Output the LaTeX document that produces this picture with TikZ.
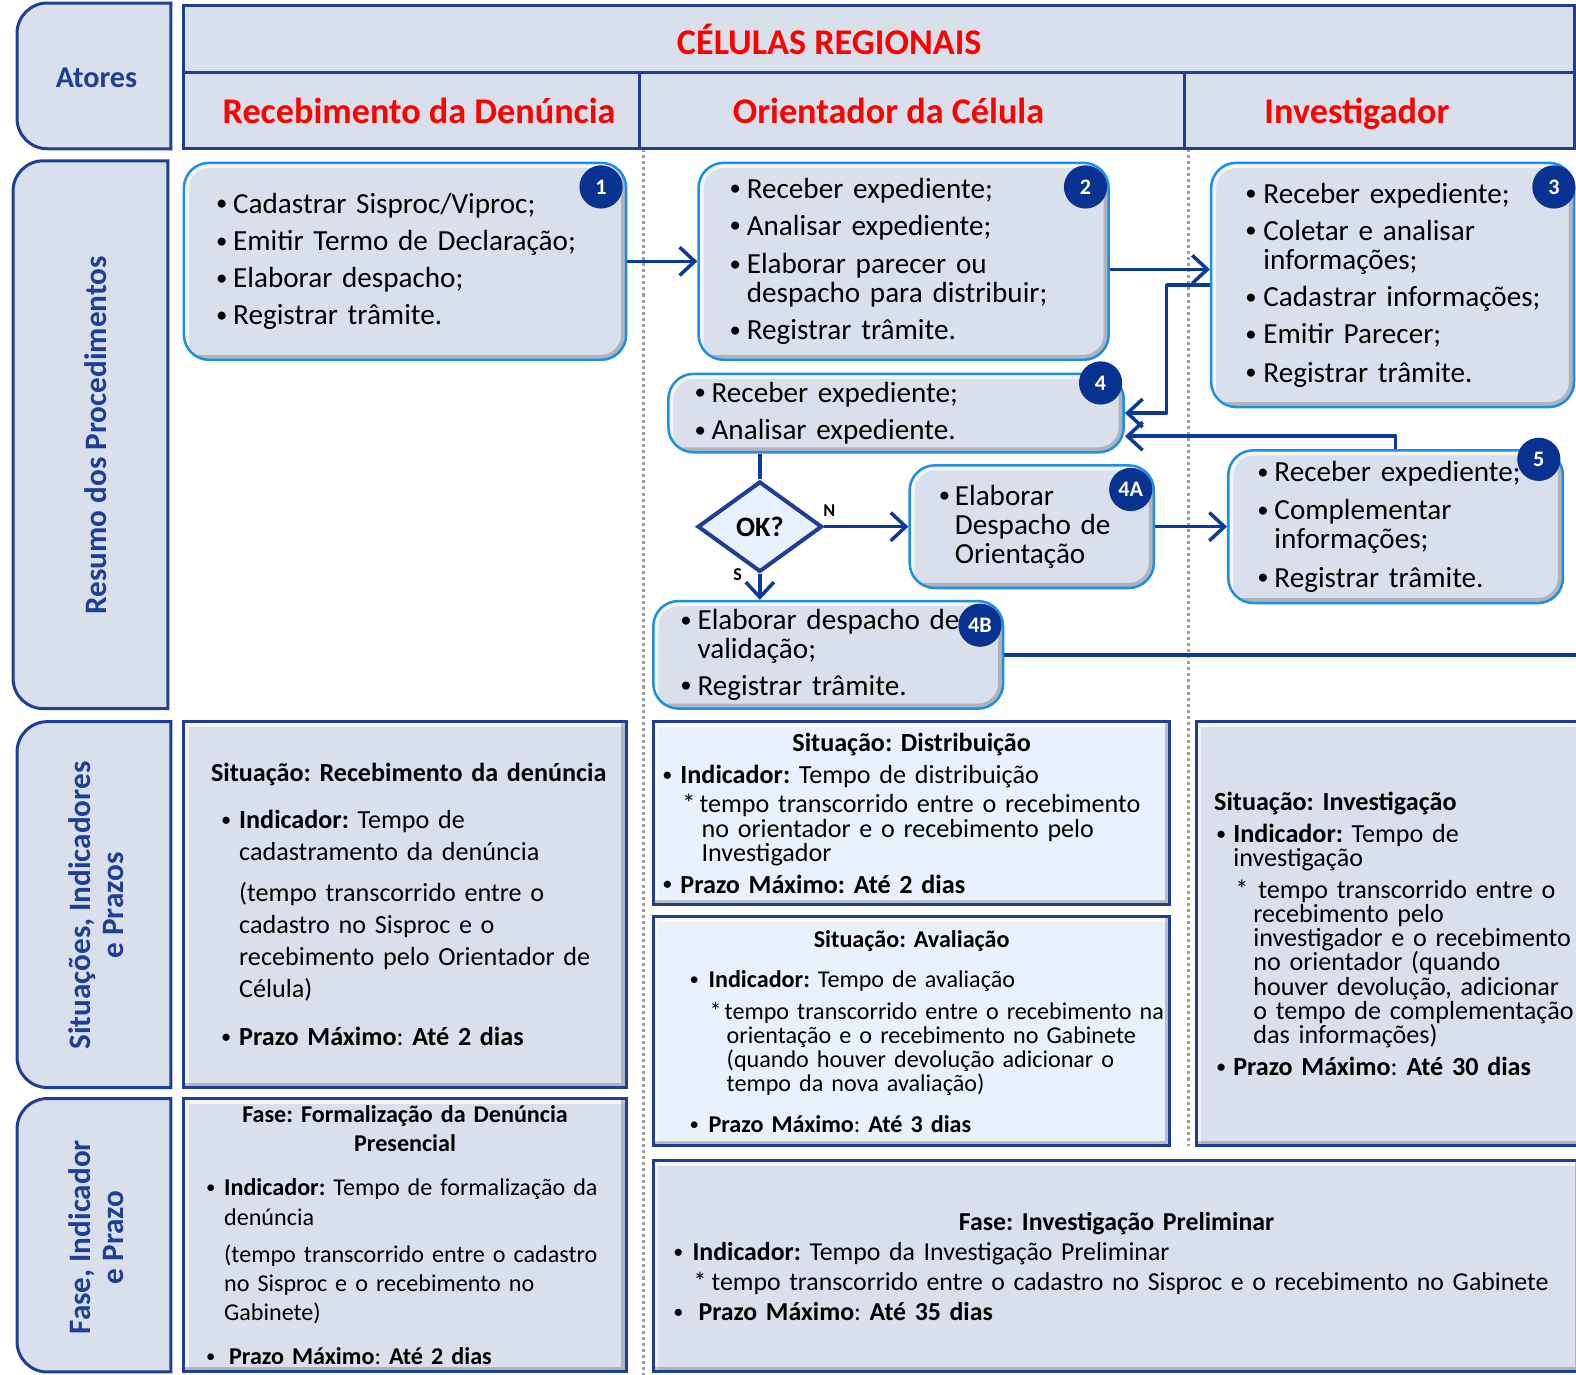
\documentclass[tikz,border=0pt]{standalone}
\usepackage{fontspec}
\setmainfont{Carlito}
\usepackage{xcolor}
\usepackage{graphicx}
\usepackage{tikz}
\usetikzlibrary{shapes.geometric, arrows.meta}

\definecolor{boxfill}{HTML}{D9E0EB}
\definecolor{lightfill}{HTML}{E8F1FC}
\definecolor{framblue}{HTML}{1F3F95}
\definecolor{stepedge}{HTML}{1E8FE4}
\definecolor{flowblue}{HTML}{0B3A9C}
\definecolor{badgeblue}{HTML}{0A3391}
\definecolor{sepgray}{HTML}{A0A0A0}

\setlength{\parindent}{0pt}
\frenchspacing
\newcommand{\pbul}[2]{\hspace*{#1pt}\makebox[#2pt][l]{\raisebox{0.08em}{\scalebox{0.78}{\textbullet}}}}
\newcommand{\pskip}[1]{\hspace*{#1pt}}
\newcommand{\pctr}[1]{\hfill#1\hfill\null}

\begin{document}
\begin{tikzpicture}[x=1pt, y=-1pt]
        % Define block styles with light gray-blue background
        \tikzstyle{sidebox} = [draw=framblue, line width=3pt, fill=boxfill]
        \tikzstyle{sidelabel} = [text=framblue, font=\bfseries\fontsize{31}{33}\selectfont, align=center]
        \tikzstyle{hdrtext} = [text=red, anchor=base, font=\bfseries\fontsize{36}{36}\selectfont]
        \tikzstyle{bevel} = [path picture={
            \draw[white, opacity=0.7, line width=10pt] (path picture bounding box.south west) -- (path picture bounding box.north west) -- (path picture bounding box.north east);
            \draw[black!50, opacity=0.45, line width=10pt] (path picture bounding box.north east) -- (path picture bounding box.south east) -- (path picture bounding box.south west);}]
        \tikzstyle{stepbox} = [rectangle, draw=stepedge, line width=2.5pt, fill=boxfill, rounded corners=25pt,
                               inner sep=0pt, align=left, font=\fontsize{29}{29}\selectfont, bevel]
        \tikzstyle{infobox} = [rectangle, draw=framblue, line width=3pt, fill=boxfill, inner sep=0pt, align=left, bevel]
        \tikzstyle{badge} = [circle, fill=badgeblue, text=white, minimum size=43pt, inner sep=0pt,
                             font=\bfseries\fontsize{22}{22}\selectfont]
        \tikzstyle{decision} = [diamond, draw=framblue, line width=4pt, fill=lightfill, aspect=1.4,
                                minimum width=124pt, minimum height=90pt, inner sep=0pt, font=\bfseries\fontsize{28}{28}\selectfont]
        \tikzstyle{yesno} = [font=\bfseries\fontsize{18}{18}\selectfont]
        \tikzstyle{arrow} = [flowblue, line width=3.5pt, line join=round, -{Straight Barb[length=15pt, width=28pt]}]
        \tikzstyle{flowline} = [flowblue, line width=3.5pt, line join=round]
        \tikzstyle{sepline} = [sepgray, line width=3pt, dash pattern=on 3pt off 3pt]

        \useasboundingbox (0,0) rectangle (1568,1368);
        \fill[white] (0,0) rectangle (1568,1368);

        % Dotted lane separators
        \draw[sepline] (640,148) -- (640,1368);
        \draw[sepline] (1182,148) -- (1182,1140);

        % Header
        \draw[sidebox] (183,5) rectangle (1566,148);
        \draw[framblue, line width=3pt] (183,72) -- (1566,72);
        \draw[framblue, line width=3pt] (636,72) -- (636,148);
        \draw[framblue, line width=3pt] (1178,72) -- (1178,148);
        \node[hdrtext] (celulas) at (825,54) {CÉLULAS REGIONAIS};
        \node[hdrtext] (hrec) at (417,123) {Recebimento da Denúncia};
        \node[hdrtext] (hori) at (884,123) {Orientador da Célula};
        \node[hdrtext] (hinv) at (1350,123) {Investigador};

        % Left column
        \draw[sidebox] (170,3) [rounded corners=30pt] -- (17,3) -- (17,148) [sharp corners] -- (170,148) -- cycle;
        \draw[sidebox] (167,160) [rounded corners=30pt] -- (13,160) -- (13,705) [sharp corners] -- (167,705) -- cycle;
        \draw[sidebox] (170,718) [rounded corners=30pt] -- (17,718) -- (17,1082) [sharp corners] -- (170,1082) -- cycle;
        \draw[sidebox] (170,1093) [rounded corners=30pt] -- (17,1093) -- (17,1365) [sharp corners] -- (170,1365) -- cycle;
        \node[sidelabel, font=\bfseries\fontsize{30}{30}\selectfont] (atores) at (96,77) {Atores};
        \node[sidelabel, rotate=90] (resumo) at (95,433) {Resumo dos Procedimentos};
        \node[sidelabel, rotate=90] (situa) at (96,901) {Situações, Indicadores\\e Prazos};
        \node[sidelabel, rotate=90] (fase) at (96,1231) {Fase, Indicador\\e Prazo};

        % Procedure blocks
        \node[stepbox, minimum width=440pt, minimum height=196pt, text width=440pt] (b1) at (403,260) {%
            \pbul{32}{17}Cadastrar Sisproc/Viproc;\\[8pt]
            \pbul{32}{17}Emitir Termo de Declaração;\\[8pt]
            \pbul{32}{17}Elaborar despacho;\\[8pt]
            \pbul{32}{17}Registrar trâmite.};
        \node[stepbox, minimum width=408pt, minimum height=196pt, text width=408pt] (b2) at (899,260) {%
            \pbul{31}{17}Receber expediente;\\[8pt]
            \pbul{31}{17}Analisar expediente;\\[9pt]
            \pbul{31}{17}Elaborar parecer ou\\
            \pskip{48}despacho para distribuir;\\[8pt]
            \pbul{31}{17}Registrar trâmite.};
        \node[stepbox, minimum width=361pt, minimum height=243pt, text width=361pt] (b3) at (1385.5,283.5) {%
            \pbul{34}{18}Receber expediente;\\[8pt]
            \pbul{34}{18}Coletar e analisar\\
            \pskip{52}informações;\\[8pt]
            \pbul{34}{18}Cadastrar informações;\\[8pt]
            \pbul{34}{18}Emitir Parecer;\\[9pt]
            \pbul{34}{18}Registrar trâmite.};
        \node[stepbox, minimum width=453pt, minimum height=78pt, text width=453pt] (b4) at (891.5,411) {%
            \pbul{26}{17}Receber expediente;\\[8pt]
            \pbul{26}{17}Analisar expediente.};
        \node[decision] (ok) at (756,524) {OK?};
        \node[stepbox, minimum width=243pt, minimum height=122pt, text width=243pt] (b4a) at (1026.5,524) {%
            \pbul{29}{16}Elaborar\\
            \pskip{45}Despacho de\\
            \pskip{45}Orientação};
        \node[stepbox, minimum width=333pt, minimum height=152pt, text width=333pt] (b5) at (1388.5,524) {%
            \pbul{29}{17}Receber expediente;\\[9pt]
            \pbul{29}{17}Complementar\\
            \pskip{46}informações;\\[9pt]
            \pbul{29}{17}Registrar trâmite.};
        \node[stepbox, minimum width=348pt, minimum height=107pt, text width=348pt] (b4b) at (824,651.5) {%
            \pbul{27}{17}Elaborar despacho de\\
            \pskip{44}validação;\\[7pt]
            \pbul{27}{17}Registrar trâmite.};

        % Step numbers
        \node[badge] (n1) at (598,186) {1};
        \node[badge] (n2) at (1080,186) {2};
        \node[badge] (n3) at (1546,186) {3};
        \node[badge] (n4) at (1095,381) {4};
        \node[badge] (n4a) at (1125,487) {4A};
        \node[badge] (n5) at (1531,457) {5};
        \node[badge] (n4b) at (975,622) {4B};

        % Arrows
        \draw [arrow] (b1) -- (b2);
        \draw [arrow] ([yshift=-8pt]b2.east) -- ([yshift=-8pt]b2.east -| b3.west);
        \draw [arrow] (b3.west) -- ++(-43,0) |- (b4.east);
        \draw [arrow] (b5.north) |- ([yshift=-23pt]b4.east);
        \draw [flowline] (b4.south -| ok.north) -- (ok.north);
        \draw [arrow] (ok.east) -- (b4a.west);
        \draw [arrow] (ok.south) -- (ok.south |- b4b.north);
        \draw [arrow] (b4a) -- (b5);
        \coordinate (exitr) at (1575,651);
        \draw [flowline] (b4b.east) -- (b4b.east -| exitr);
        \node[yesno] (nlbl) at (825,508) {N};
        \node[yesno] (slbl) at (734,572) {S};

        % Situations, indicators and deadlines
        \node[infobox, minimum width=440pt, minimum height=364pt, text width=440pt, font=\fontsize{26}{32}\selectfont] (s1) at (403,900) {%
            \pskip{27}\textbf{Situação: Recebimento da denúncia}\\[15pt]
            \pbul{37}{18}\textbf{Indicador:} Tempo de\\
            \pskip{55}cadastramento da denúncia\\[8pt]
            \pskip{55}(tempo transcorrido entre o\\
            \pskip{55}cadastro no Sisproc e o\\
            \pskip{55}recebimento pelo Orientador de\\
            \pskip{55}Célula)\\[16pt]
            \pbul{37}{18}\textbf{Prazo Máximo}: \textbf{Até 2 dias}};
        \node[infobox, fill=lightfill, minimum width=514pt, minimum height=182pt, text width=514pt, font=\fontsize{26}{24.5}\selectfont] (s2) at (907,809) {%
            \pctr{\textbf{Situação: Distribuição}}\\[7.5pt]
            \pbul{9}{18}\textbf{Indicador:} Tempo de distribuição\\[4.5pt]
            \pskip{29}\makebox[17pt][l]{*}tempo transcorrido entre o recebimento\\
            \pskip{48}no orientador e o recebimento pelo\\
            \pskip{48}Investigador\\[6.5pt]
            \pbul{9}{18}\textbf{Prazo Máximo: Até 2 dias}};
        \node[infobox, fill=lightfill, minimum width=514pt, minimum height=228pt, text width=514pt, font=\fontsize{24}{24}\selectfont] (s3) at (907,1026) {%
            \pctr{\textbf{Situação: Avaliação}}\\[16pt]
            \pbul{36}{19}\textbf{Indicador:} Tempo de avaliação\\[8pt]
            \pskip{56}\makebox[15pt][l]{*}tempo transcorrido entre o recebimento na\\
            \pskip{73}orientação e o recebimento no Gabinete\\
            \pskip{73}(quando houver devolução adicionar o\\
            \pskip{73}tempo da nova avaliação)\\[16pt]
            \pbul{36}{19}\textbf{Prazo Máximo}: \textbf{Até 3 dias}};
        \node[infobox, minimum width=385pt, minimum height=422pt, text width=385pt, font=\fontsize{26}{24}\selectfont] (s4) at (1382.5,929) {%
            \pskip{18}\textbf{Situação: Investigação}\\[8pt]
            \pbul{20}{17}\textbf{Indicador:} Tempo de\\
            \pskip{37}investigação\\[8pt]
            \pskip{39}\makebox[23pt][l]{*}tempo transcorrido entre o\\
            \pskip{57}recebimento pelo\\
            \pskip{57}investigador e o recebimento\\
            \pskip{57}no orientador (quando\\
            \pskip{57}houver devolução, adicionar\\
            \pskip{57}o tempo de complementação\\
            \pskip{57}das informações)\\[8pt]
            \pbul{20}{17}\textbf{Prazo Máximo}: \textbf{Até 30 dias}};

        % Phases
        \node[infobox, minimum width=440pt, minimum height=272pt, text width=440pt, font=\fontsize{24}{29}\selectfont] (f1) at (403,1229) {%
            \pctr{\textbf{Fase: Formalização da Denúncia}}\\
            \pctr{\textbf{Presencial}}\\[15pt]
            \pbul{22}{18}\textbf{Indicador:} Tempo de formalização da\\
            \pskip{40}denúncia\\[8pt]
            \pskip{40}(tempo transcorrido entre o cadastro\\
            \pskip{40}no Sisproc e o recebimento no\\
            \pskip{40}Gabinete)\\[15pt]
            \pbul{22}{23}\textbf{Prazo Máximo}: \textbf{Até 2 dias}};
        \node[infobox, minimum width=922pt, minimum height=210pt, text width=922pt, font=\fontsize{25.7}{30}\selectfont] (f2) at (1111,1260) {%
            \pctr{\textbf{Fase: Investigação Preliminar}}\\
            \pbul{20}{19}\textbf{Indicador:} Tempo da Investigação Preliminar\\
            \pskip{40}\makebox[18pt][l]{*}tempo transcorrido entre o cadastro no Sisproc e o recebimento no Gabinete\\
            \pbul{20}{25}\textbf{Prazo Máximo}: \textbf{Até 35 dias}};
    \end{tikzpicture}
\end{document}
